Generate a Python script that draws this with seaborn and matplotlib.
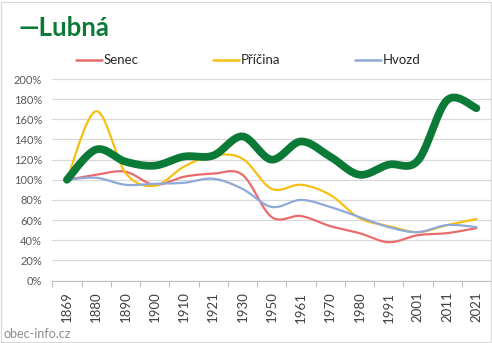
import numpy as np
import pandas as pd
import matplotlib
matplotlib.use("Agg")
import matplotlib.pyplot as plt
from matplotlib.lines import Line2D
from matplotlib.ticker import FuncFormatter, FixedLocator
import seaborn as sns

# Census years and population indexed to 1869 (in %)
years = ["1869", "1880", "1890", "1900", "1910", "1921", "1930", "1950",
         "1961", "1970", "1980", "1991", "2001", "2011", "2021"]
lubna = [100, 130, 118, 114, 123, 124, 143, 120, 138, 123, 105, 115, 119, 179, 171]
senec = [100, 105, 108, 95, 103, 106, 105, 63, 64, 54, 47, 38, 45, 47, 52]
pricina = [100, 168, 107, 94, 113, 124, 121, 91, 95, 85, 62, 54, 48, 55, 61]
hvozd = [100, 102, 95, 96, 97, 101, 91, 73, 80, 73, 63, 53, 48, 55, 53]

GREEN = "#0b7a36"
RED = "#ea6b6b"
GOLD = "#f6c012"
BLUE = "#8fa9d8"


def smooth(values, steps=24):
    """Bezier smoothing through the points (Catmull-Rom style, tension 1/6)."""
    pts = np.column_stack([np.arange(len(values), dtype=float), np.asarray(values, float)])
    n = len(pts)
    out = []
    for i in range(n - 1):
        p0 = pts[max(i - 1, 0)]
        p1 = pts[i]
        p2 = pts[i + 1]
        p3 = pts[min(i + 2, n - 1)]
        b1 = p1 + (p2 - p0) / 6.0
        b2 = p2 - (p3 - p1) / 6.0
        t = np.linspace(0, 1, steps, endpoint=(i == n - 2))[:, None]
        seg = ((1 - t) ** 3) * p1 + 3 * ((1 - t) ** 2) * t * b1 + 3 * (1 - t) * t ** 2 * b2 + t ** 3 * p2
        out.append(seg)
    arr = np.vstack(out)
    return arr[:, 0], arr[:, 1]


sns.set_theme(style="white")
plt.rcParams["font.family"] = ["Lato", "DejaVu Sans"]

fig = plt.figure(figsize=(4.92, 3.43), dpi=100)
W, H = 492, 343
ax = fig.add_axes([52.3 / W, (H - 280.5) / H, (491 - 52.3) / W, (280.5 - 79) / H])

series = [("Senec", senec, RED, 1.6),
          ("Příčina", pricina, GOLD, 1.6),
          ("Hvozd", hvozd, BLUE, 1.6),
          ("Lubná", lubna, GREEN, 5.6)]

for name, vals, color, lw in series:
    xs, ys = smooth(vals)
    df = pd.DataFrame({"x": xs, "y": ys})
    sns.lineplot(data=df, x="x", y="y", ax=ax, color=color, linewidth=lw,
                 sort=False, estimator=None, solid_capstyle="round")

ax.set_xlim(-0.5, len(years) - 0.5)
ax.set_ylim(0, 200)
ax.set_xlabel("")
ax.set_ylabel("")

# y axis: percentage gridlines
ax.yaxis.set_major_locator(FixedLocator(np.arange(0, 201, 20)))
ax.yaxis.set_major_formatter(FuncFormatter(lambda v, _: f"{int(v)}%"))
ax.grid(axis="y", color="#d9d9d9", linewidth=0.9)
ax.grid(axis="x", visible=False)
ax.set_axisbelow(True)
ax.tick_params(axis="y", length=0, pad=7.4, labelsize=8, labelcolor="#595959")

# x axis: category labels centred, tick marks between categories
ax.set_xticks(range(len(years)))
ax.set_xticklabels(years, rotation=90)
ax.set_xticks(np.arange(-0.5, len(years), 1.0), minor=True)
ax.tick_params(axis="x", which="major", length=0, pad=8.0, labelsize=9.5, labelcolor="#404040")
ax.tick_params(axis="x", which="minor", length=4, width=0.8, color="#bfbfbf", direction="out", bottom=True)
for lab in ax.get_xticklabels():
    lab.set_verticalalignment("top")

for side in ["top", "right", "left"]:
    ax.spines[side].set_visible(False)
ax.spines["bottom"].set_color("#bfbfbf")
ax.spines["bottom"].set_linewidth(0.8)

# title
fig.text(18 / W, 1 - 36 / H, "—Lubná", color=GREEN, fontsize=18.5, fontweight="bold",
         ha="left", va="baseline")

# legend row
legend_items = [("Senec", RED, 76), ("Příčina", GOLD, 213), ("Hvozd", BLUE, 355)]
for label, color, x0 in legend_items:
    y = 1 - 60 / H
    fig.add_artist(Line2D([x0 / W, (x0 + 26) / W], [y, y], color=color, linewidth=1.8,
                          transform=fig.transFigure))
    fig.text((x0 + 28) / W, y, label, fontsize=9.5, color="#262626", ha="left", va="center")

# source watermark
fig.text(3 / W, 1 - 337.5 / H, "obec-info.cz", fontsize=9, color="#8c8c8c",
         ha="left", va="baseline")

# chart border
fig.add_artist(plt.Rectangle((0.5 / W, 1.5 / H), 490 / W, 340 / H, fill=False,
                             edgecolor="#d9d9d9", linewidth=0.9, transform=fig.transFigure))

fig.savefig("out.png", dpi=100)
